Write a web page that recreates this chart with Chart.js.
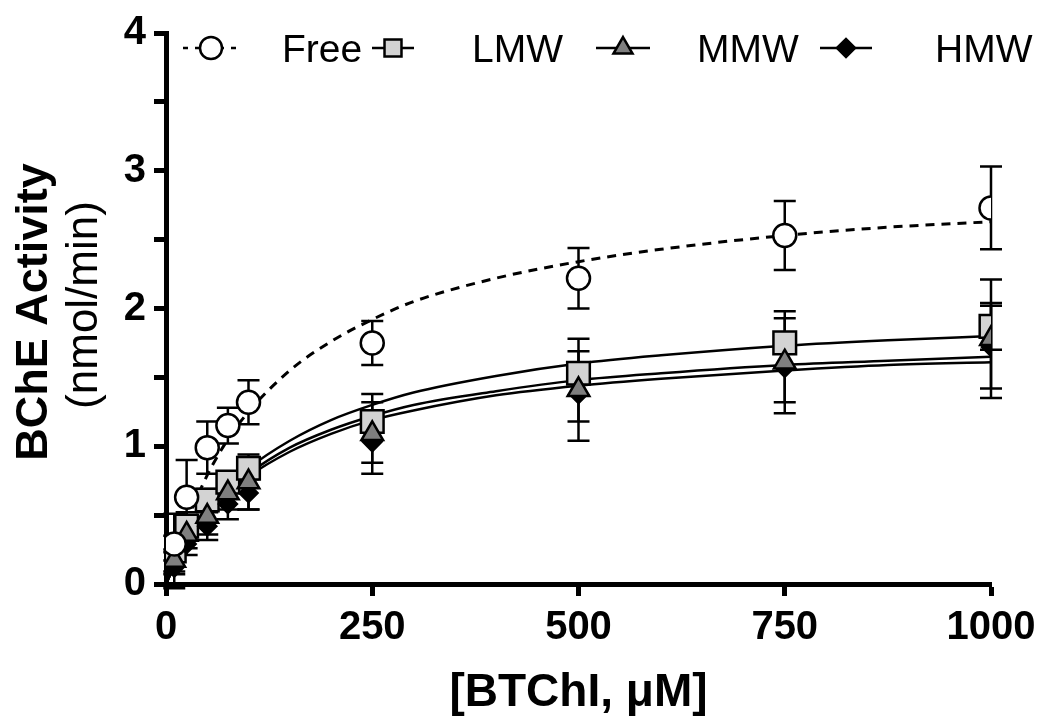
<!DOCTYPE html>
<html>
<head>
<meta charset="utf-8">
<script src="https://cdn.jsdelivr.net/npm/chart.js@4.4.1/dist/chart.umd.min.js"></script>
<style>
  body { margin: 0; background: #fff; }
  canvas { display: block; }
</style>
</head>
<body>
<canvas id="myChart" width="1041" height="721"></canvas>
<script>
// substrate concentrations (uM)
const concentrations = [10, 25, 50, 75, 100, 250, 500, 750, 1000];

// mean activity and SD
const freeMean = [0.29, 0.63, 0.99, 1.15, 1.32, 1.75, 2.22, 2.53, 2.73];
const freeSD   = [0.06, 0.27, 0.19, 0.13, 0.16, 0.16, 0.22, 0.25, 0.30];
const lmwMean  = [0.24, 0.42, 0.61, 0.74, 0.84, 1.18, 1.53, 1.75, 1.87];
const lmwSD    = [0.27, 0.10, 0.08, 0.07, 0.08, 0.14, 0.16, 0.18, 0.17];
const mmwMean  = [0.17, 0.36, 0.49, 0.66, 0.74, 1.09, 1.41, 1.61, 1.78];
const mmwSD    = [0.08, 0.10, 0.13, 0.12, 0.20, 0.29, 0.37, 0.37, 0.43];
const hmwMean  = [0.12, 0.29, 0.42, 0.58, 0.66, 1.03, 1.38, 1.57, 1.72];
const hmwSD    = [0.05, 0.08, 0.10, 0.11, 0.12, 0.15, 0.20, 0.25, 0.30];

// fitted curves at these x values
const fitX    = [0, 10, 25, 50, 75, 100, 150, 200, 250, 300, 400, 500, 600, 750, 875, 1000];
const freeFit = [0, 0.20, 0.45, 0.79, 1.05, 1.25, 1.55, 1.76, 1.92, 2.05, 2.22, 2.34, 2.43, 2.53, 2.59, 2.63];
const lmwFit  = [0, 0.13, 0.30, 0.52, 0.70, 0.84, 1.04, 1.19, 1.30, 1.39, 1.51, 1.60, 1.66, 1.73, 1.77, 1.80];
const mmwFit  = [0, 0.13, 0.30, 0.51, 0.67, 0.80, 0.99, 1.12, 1.22, 1.30, 1.40, 1.48, 1.53, 1.59, 1.62, 1.65];
const hmwFit  = [0, 0.13, 0.29, 0.49, 0.65, 0.78, 0.96, 1.09, 1.19, 1.26, 1.37, 1.44, 1.49, 1.55, 1.59, 1.61];

const legendLabels = ["Free", "LMW", "MMW", "HMW"];

const FONT = "Arial, 'Liberation Sans', sans-serif";

let toPoints = (xs, ys) => xs.map((x, i) => ({ x: x, y: ys[i] }));

let groups = [
    { name: "Free", mean: freeMean, sd: freeSD, fit: freeFit, style: "circle", radius: 11.5, fill: "#ffffff", dash: [9, 7] },
    { name: "LMW", mean: lmwMean, sd: lmwSD, fit: lmwFit, style: "rect", radius: 16, fill: "#d3d3d3", dash: [] },
    { name: "MMW", mean: mmwMean, sd: mmwSD, fit: mmwFit, style: "triangle", radius: 12.5, fill: "#7f7f7f", dash: [] },
    { name: "HMW", mean: hmwMean, sd: hmwSD, fit: hmwFit, style: "rectRot", radius: 9, fill: "#000000", dash: [] },
];

// markers: first dataset is drawn on top
let markerOrder = ["Free", "MMW", "HMW", "LMW"];
let datasets = [];
markerOrder.forEach((name) => {
    let g = groups.find(gr => gr.name === name);
    datasets.push({
        label: g.name,
        data: toPoints(concentrations, g.mean),
        showLine: false,
        pointStyle: g.style,
        pointRadius: g.radius,
        pointHoverRadius: g.radius,
        pointBackgroundColor: g.fill,
        pointBorderColor: "#000",
        pointBorderWidth: 2.5,
        order: 1,
    });
});
groups.forEach((g) => {
    datasets.push({
        label: g.name + " fit",
        data: toPoints(fitX, g.fit),
        showLine: true,
        pointRadius: 0,
        borderColor: "#000",
        borderWidth: g.name === "Free" ? 3 : 2.5,
        borderDash: g.dash,
        cubicInterpolationMode: "monotone",
        order: 2,
    });
});

// error bars, under the markers
const errorBars = {
    id: "errorBars",
    beforeDatasetsDraw(chart) {
        const { ctx, scales: { x, y } } = chart;
        ctx.save();
        ctx.strokeStyle = "#000";
        ctx.lineWidth = 2.5;
        groups.forEach((g) => {
            concentrations.forEach((c, i) => {
                let px = x.getPixelForValue(c);
                let top = y.getPixelForValue(g.mean[i] + g.sd[i]);
                let bot = y.getPixelForValue(g.mean[i] - g.sd[i]);
                ctx.beginPath();
                ctx.moveTo(px, top);
                ctx.lineTo(px, bot);
                ctx.moveTo(px - 11, top);
                ctx.lineTo(px + 11, top);
                ctx.moveTo(px - 11, bot);
                ctx.lineTo(px + 11, bot);
                ctx.stroke();
            });
        });
        ctx.restore();
    }
};

// legend row and two-line y title
const extras = {
    id: "extras",
    afterDraw(chart) {
        const ctx = chart.ctx;
        ctx.save();

        let items = [
            { lineFrom: 183, lineTo: 242, mark: 211, text: 282, size: 11 },
            { lineFrom: 372, lineTo: 414, mark: 393, text: 472, size: 12 },
            { lineFrom: 596, lineTo: 650, mark: 623, text: 697, size: 11 },
            { lineFrom: 820, lineTo: 872, mark: 846, text: 935, size: 9 },
        ];
        let ly = 48;
        items.forEach((it, i) => {
            let g = groups[i];
            ctx.strokeStyle = "#000";
            ctx.lineWidth = 2.5;
            ctx.setLineDash(g.name === "Free" ? [5, 7] : []);
            ctx.beginPath();
            ctx.moveTo(it.lineFrom, ly);
            ctx.lineTo(it.lineTo, ly);
            ctx.stroke();
            ctx.setLineDash([]);
            ctx.fillStyle = g.fill;
            Chart.helpers.drawPoint(ctx, { pointStyle: g.style, radius: it.size, borderWidth: 2.5, rotation: 0 }, it.mark, ly);
            ctx.fillStyle = "#000";
            ctx.font = "39px " + FONT;
            ctx.textAlign = "left";
            ctx.textBaseline = "alphabetic";
            ctx.fillText(legendLabels[i], it.text, 62);
        });

        ctx.fillStyle = "#000";
        ctx.textAlign = "center";
        ctx.textBaseline = "alphabetic";
        ctx.save();
        ctx.translate(47, 312);
        ctx.rotate(-Math.PI / 2);
        ctx.font = "bold 45px " + FONT;
        ctx.fillText("BChE Activity", 0, 0);
        ctx.restore();
        ctx.save();
        ctx.translate(97, 305);
        ctx.rotate(-Math.PI / 2);
        ctx.font = "44px " + FONT;
        ctx.fillText("(nmol/min)", 0, 0);
        ctx.restore();

        ctx.restore();
    }
};

const ctx = document.getElementById("myChart");

let chart = new Chart(ctx, {
    type: "scatter",
    data: { datasets: datasets },
    options: {
        responsive: false,
        animation: false,
        devicePixelRatio: 1,
        layout: { padding: { top: 33, right: 50, left: 0, bottom: 0 } },
        plugins: {
            legend: { display: false },
            tooltip: { enabled: false },
        },
        scales: {
            x: {
                type: "linear",
                min: 0,
                max: 1000,
                afterFit: (scale) => {
                    scale.height = 137;
                    scale.paddingRight = 40;
                },
                ticks: {
                    stepSize: 250,
                    color: "#000",
                    padding: 8,
                    font: { family: FONT, size: 40, weight: "bold" },
                    maxRotation: 0,
                    callback: (value) => String(value),
                },
                grid: { drawOnChartArea: false, drawTicks: true, tickLength: 12, tickWidth: 5, tickColor: "#000", color: "#000" },
                border: { display: true, width: 5, color: "#000" },
                title: {
                    display: true,
                    text: "[BTChI, \u03bcM]",
                    color: "#000",
                    font: { family: FONT, size: 46, weight: "bold" },
                    padding: { top: 0, bottom: 0 },
                },
            },
            y: {
                min: 0,
                max: 4,
                afterFit: (scale) => { scale.width = 166; },
                ticks: {
                    stepSize: 0.5,
                    color: "#000",
                    padding: 8,
                    font: { family: FONT, size: 40, weight: "bold" },
                    callback: (value) => (value % 1 === 0 ? value : ""),
                },
                grid: { drawOnChartArea: false, drawTicks: true, tickLength: 12, tickWidth: 5, tickColor: "#000", color: "#000" },
                border: { display: true, width: 5, color: "#000" },
            },
        },
    },
    plugins: [errorBars, extras],
});
</script>
</body>
</html>
